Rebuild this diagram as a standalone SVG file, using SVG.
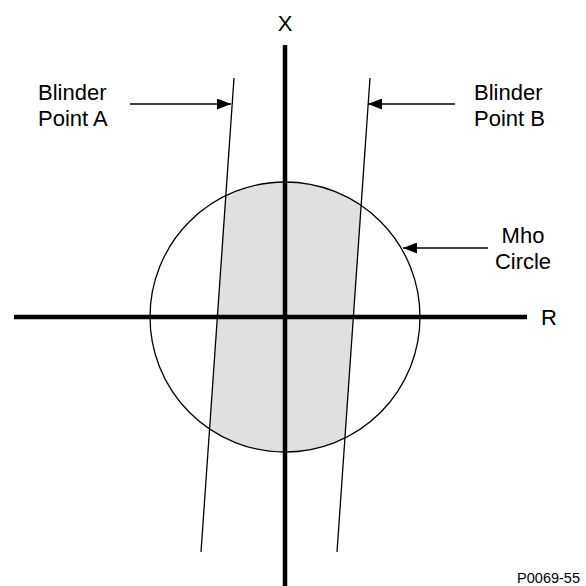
<svg xmlns="http://www.w3.org/2000/svg" width="586" height="586" viewBox="0 0 586 586">
<style>
text{font-family:"Liberation Sans",Arial,sans-serif;fill:#000}
.lbl{font-size:22px}
.axis{stroke:#000;stroke-width:4.5;fill:none}
.thin{stroke:#000;stroke-width:1.3;fill:none}
.arr{stroke:#000;stroke-width:1.3;fill:none;marker-end:url(#ah)}
</style>
<defs>
<marker id="ah" viewBox="0 0 14 11" refX="14" refY="5.5" markerWidth="14" markerHeight="11" markerUnits="userSpaceOnUse" orient="auto">
<path d="M0,0 L14,5.5 L0,11 Z" fill="#000"/>
</marker>
</defs>
<rect width="586" height="586" fill="#fff"/>
<g id="shaded-region">
<path d="M225.81,195.67 A135,135 0 0 1 361.12,205.51 L344.94,437.96 A135,135 0 0 1 209.57,428.96 Z" fill="#e0e0e0" stroke="none"/>
</g>
<g id="mho-circle">
<circle cx="285" cy="317" r="135" class="thin"/>
</g>
<g id="blinder-a">
<line x1="234" y1="78" x2="201" y2="552" class="thin"/>
</g>
<g id="blinder-b">
<line x1="370" y1="78" x2="337" y2="552" class="thin"/>
</g>
<g id="axes">
<line x1="285" y1="45" x2="285" y2="586" class="axis"/>
<line x1="14" y1="317" x2="527" y2="317" class="axis"/>
<text x="285" y="31" class="lbl" text-anchor="middle">X</text>
<text x="541" y="325" class="lbl">R</text>
</g>
<g id="connectors">
<line x1="130" y1="104" x2="231" y2="104" class="arr"/>
<line x1="455" y1="104" x2="368" y2="104" class="arr"/>
<line x1="488" y1="248" x2="403" y2="248" class="arr"/>
</g>
<g id="label-a">
<text x="38" y="100" class="lbl">Blinder</text>
<text x="38" y="126" class="lbl">Point A</text>
</g>
<g id="label-b">
<text x="474" y="100" class="lbl">Blinder</text>
<text x="474" y="126" class="lbl">Point B</text>
</g>
<g id="label-mho">
<text x="523" y="243" class="lbl" text-anchor="middle">Mho</text>
<text x="523" y="269" class="lbl" text-anchor="middle">Circle</text>
</g>
<text x="580" y="583" font-size="14.5" text-anchor="end">P0069-55</text>
</svg>
